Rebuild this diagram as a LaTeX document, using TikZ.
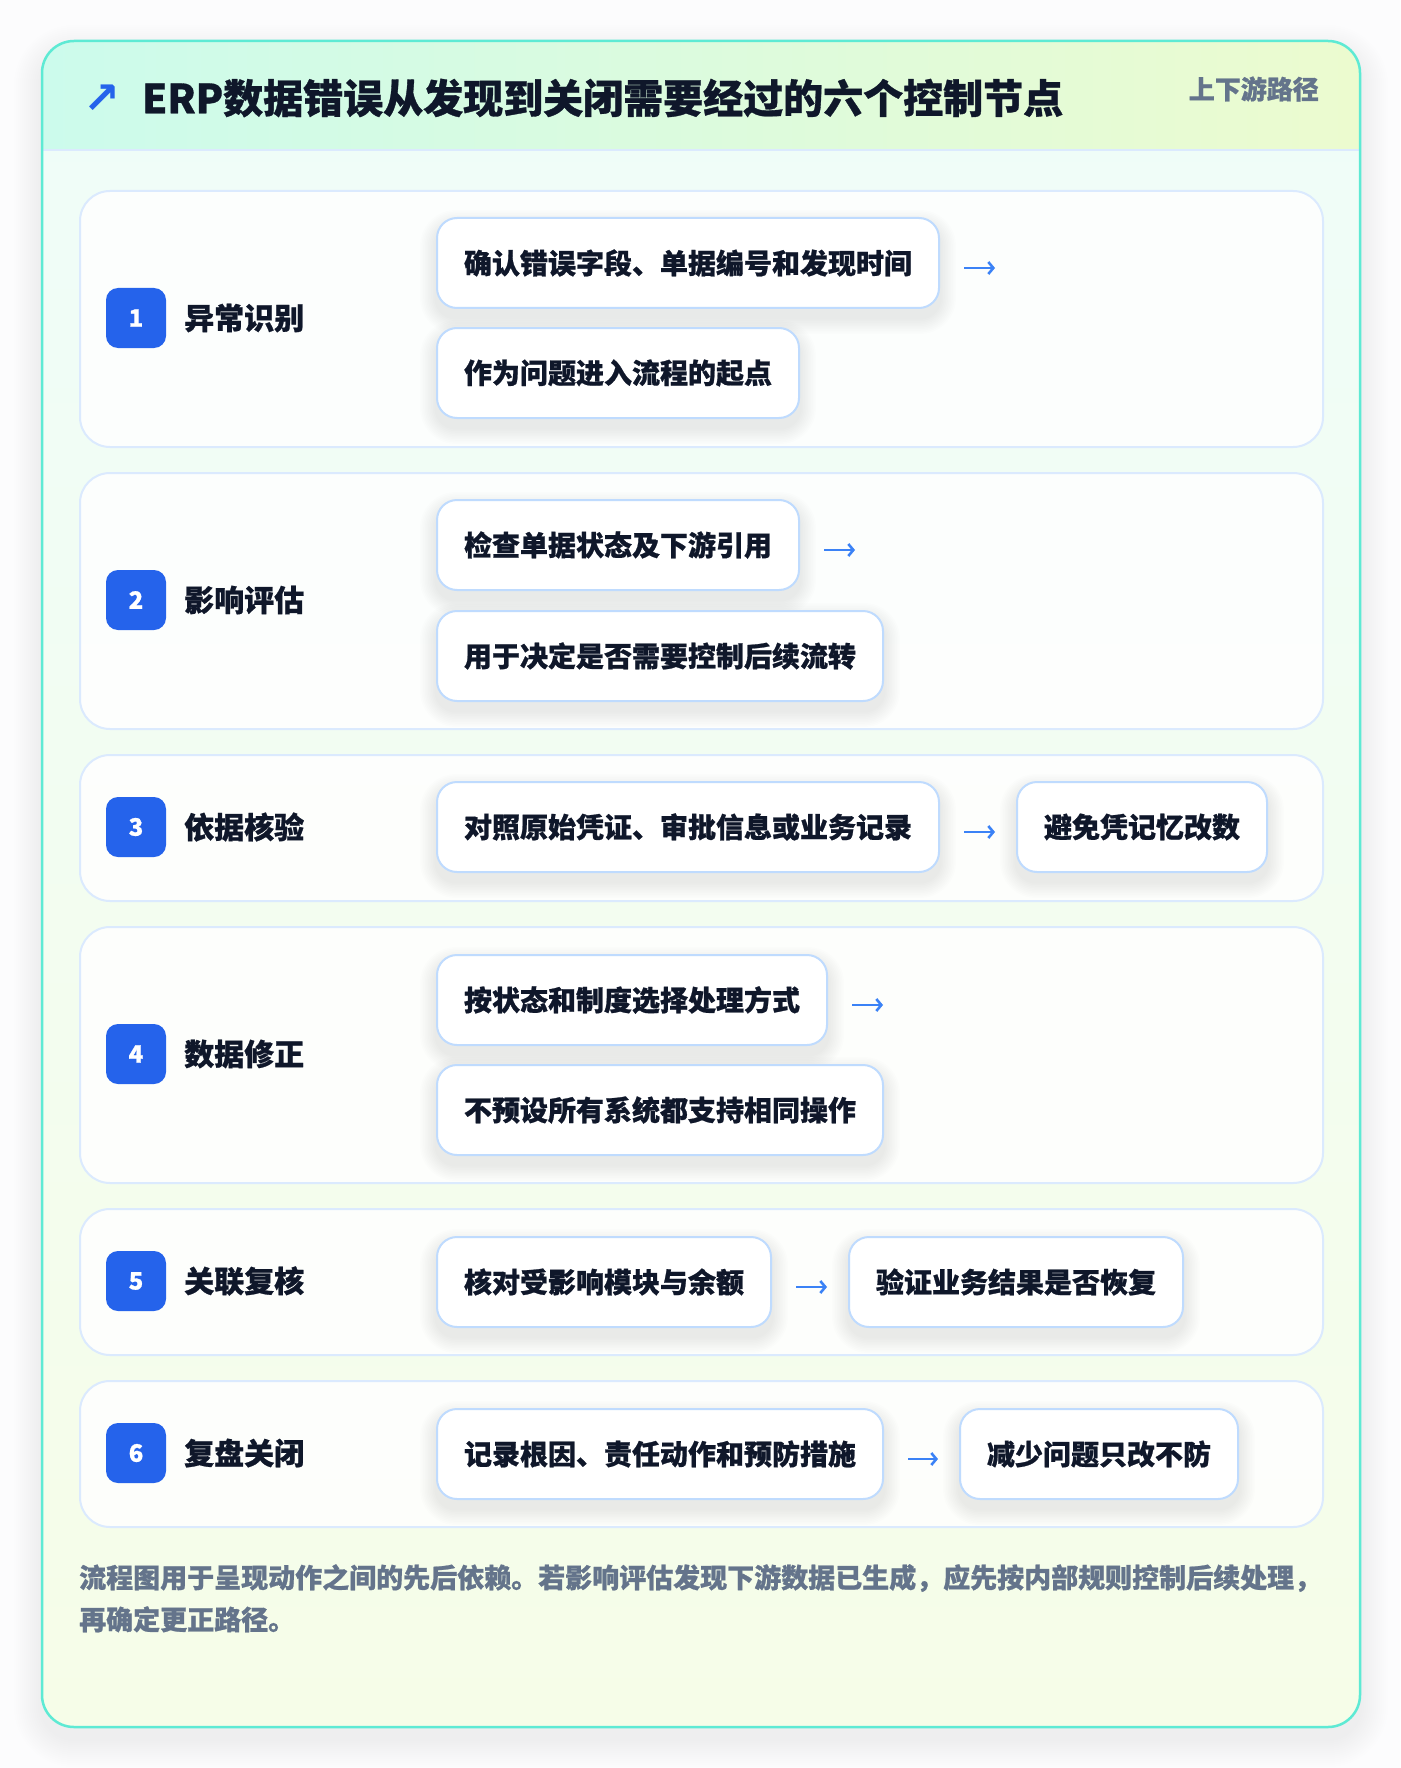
\documentclass[tikz,border=0pt]{standalone}
\usepackage{fontspec}
\setmainfont{Noto Sans CJK SC}[BoldFeatures={FakeBold=0.8}]
\newfontfamily\symfont{DejaVu Sans}
\usetikzlibrary{arrows.meta}
\definecolor{pagebg}{HTML}{FCFCFD}
\definecolor{cardtop}{HTML}{EFFDF9}
\definecolor{cardbot}{HTML}{F6FDE8}
\definecolor{hdrL}{HTML}{CCFBEC}
\definecolor{hdrR}{HTML}{ECFBCF}
\definecolor{hdrline}{HTML}{DBEAFE}
\definecolor{cardborder}{HTML}{5EEAD4}
\definecolor{rowline}{HTML}{DBEAFE}
\definecolor{boxline}{HTML}{BFDBFE}
\definecolor{badgeblue}{HTML}{2563EB}
\definecolor{ink}{HTML}{0F172A}
\definecolor{muted}{HTML}{64748B}
\definecolor{flowblue}{HTML}{3B82F6}
\definecolor{shadowc}{HTML}{1E293B}
\pgfdeclarelayer{bg}
\pgfdeclarelayer{shd}
\pgfsetlayers{bg,shd,main}
\begin{document}
\begin{tikzpicture}[x=1pt,y=-1pt,
  rowcard/.style={draw=rowline, line width=2pt, fill=white, fill opacity=0.85,
    rounded corners=30pt, inner sep=0pt, anchor=north west, minimum width=1243pt},
  badge/.style={fill=badgeblue, rounded corners=12pt, minimum size=60pt, inner sep=0pt,
    text=white, font=\bfseries\fontsize{24}{24}\selectfont},
  lab/.style={anchor=west, inner sep=0pt, text=ink, font=\bfseries\fontsize{30}{36}\selectfont},
  stepbox/.style={draw=boxline, line width=2pt, fill=white, rounded corners=20pt,
    minimum height=90pt, inner xsep=27pt, inner ysep=0pt, anchor=north west,
    text=ink, font=\bfseries\fontsize{28}{34}\selectfont},
  flow/.style={draw=flowblue, line width=2.6pt, -{Straight Barb[length=5pt,width=12pt]}}
]
\begin{pgfonlayer}{bg}
\fill[pagebg] (0,0) rectangle (1400,1768);
% card shadow
\foreach \k in {1,...,14}{
  \fill[shadowc, fill opacity=0.0045, rounded corners=32pt+2*\k pt]
    (42-2*\k,41-2*\k+12) rectangle (1360+2*\k,1727+2*\k+12);
}
% card
\shade[top color=cardtop, bottom color=cardbot, rounded corners=32pt] (42,41) rectangle (1360,1727);
\begin{scope}
  \clip[rounded corners=32pt] (42,41) rectangle (1360,1727);
  \shade[left color=hdrL, right color=hdrR] (42,41) rectangle (1360,150);
\end{scope}
\draw[hdrline, line width=2pt] (43,150) -- (1359,150);
\draw[cardborder, line width=2.5pt, rounded corners=32pt] (42,41) rectangle (1360,1727);
% rows
\node[rowcard, minimum height=256pt] (r1) at (79,190) {};
\node[rowcard, minimum height=256pt] (r2) at (79,472) {};
\node[rowcard, minimum height=146pt] (r3) at (79,754) {};
\node[rowcard, minimum height=256pt] (r4) at (79,926) {};
\node[rowcard, minimum height=146pt] (r5) at (79,1208) {};
\node[rowcard, minimum height=146pt] (r6) at (79,1380) {};
\end{pgfonlayer}
\useasboundingbox (0,0) rectangle (1400,1768);
% header
\node[inner sep=0pt, text=badgeblue, font=\symfont\bfseries\fontsize{44}{44}\selectfont] (icon) at (102,99) {↗};
\node[anchor=west, inner sep=0pt, text=ink, font=\bfseries\fontsize{40}{48}\selectfont] (title) at (142,98) {ERP数据错误从发现到关闭需要经过的六个控制节点};
\node[anchor=east, inner sep=0pt, text=muted, font=\bfseries\fontsize{26}{30}\selectfont] (tag) at (1319,89) {上下游路径};
% badges and labels
\node[badge] (n1) at (136,318) {1};
\node[lab] (l1) at (184,318) {异常识别};
\node[badge] (n2) at (136,600) {2};
\node[lab] (l2) at (184,600) {影响评估};
\node[badge] (n3) at (136,827) {3};
\node[lab] (l3) at (184,827) {依据核验};
\node[badge] (n4) at (136,1054) {4};
\node[lab] (l4) at (184,1054) {数据修正};
\node[badge] (n5) at (136,1281) {5};
\node[lab] (l5) at (184,1281) {关联复核};
\node[badge] (n6) at (136,1453) {6};
\node[lab] (l6) at (184,1453) {复盘关闭};
% step boxes
\node[stepbox] (b11) at (436,217) {确认错误字段、单据编号和发现时间};
\node[stepbox] (b12) at (436,327) {作为问题进入流程的起点};
\node[stepbox] (b21) at (436,499) {检查单据状态及下游引用};
\node[stepbox] (b22) at (436,610) {用于决定是否需要控制后续流转};
\node[stepbox] (b31) at (436,781) {对照原始凭证、审批信息或业务记录};
\node[stepbox] (b32) at ([xshift=76pt]b31.north east) {避免凭记忆改数};
\node[stepbox] (b41) at (436,954) {按状态和制度选择处理方式};
\node[stepbox] (b42) at (436,1064) {不预设所有系统都支持相同操作};
\node[stepbox] (b51) at (436,1236) {核对受影响模块与余额};
\node[stepbox] (b52) at ([xshift=76pt]b51.north east) {验证业务结果是否恢复};
\node[stepbox] (b61) at (436,1408) {记录根因、责任动作和预防措施};
\node[stepbox] (b62) at ([xshift=75pt]b61.north east) {减少问题只改不防};
% soft shadows under the step boxes
\begin{pgfonlayer}{shd}
\foreach \b in {b11,b12,b21,b22,b31,b32,b41,b42,b51,b52,b61,b62}{
  \foreach \k in {1,...,10}{
    \fill[shadowc, fill opacity=0.009, rounded corners=20pt+1.6*\k pt]
      ([shift={(-1.6*\k,-1.6*\k+9)}]\b.north west) rectangle ([shift={(1.6*\k,1.6*\k+9)}]\b.south east);
  }
}
\end{pgfonlayer}
% arrows
\coordinate (e1) at ([xshift=55pt,yshift=-5pt]b11.east);
\coordinate (e2) at ([xshift=55pt,yshift=-5pt]b21.east);
\coordinate (e4) at ([xshift=55pt,yshift=-5pt]b41.east);
\draw[flow] ([xshift=24pt,yshift=-5pt]b11.east) -- (e1);
\draw[flow] ([xshift=24pt,yshift=-5pt]b21.east) -- (e2);
\draw[flow] ([xshift=24pt,yshift=-5pt]b31.east) -- ([xshift=-21pt,yshift=-5pt]b32.west);
\draw[flow] ([xshift=24pt,yshift=-5pt]b41.east) -- (e4);
\draw[flow] ([xshift=24pt,yshift=-5pt]b51.east) -- ([xshift=-21pt,yshift=-5pt]b52.west);
\draw[flow] ([xshift=24pt,yshift=-5pt]b61.east) -- ([xshift=-21pt,yshift=-5pt]b62.west);
% footer
\node[anchor=north west, inner sep=0pt, align=left, text=muted,
  font=\bfseries\fontsize{27}{42}\selectfont] (note) at (79,1564)
  {流程图用于呈现动作之间的先后依赖。若影响评估发现下游数据已生成，应先按内部规则控制后续处理，\\再确定更正路径。};
\end{tikzpicture}
\end{document}
